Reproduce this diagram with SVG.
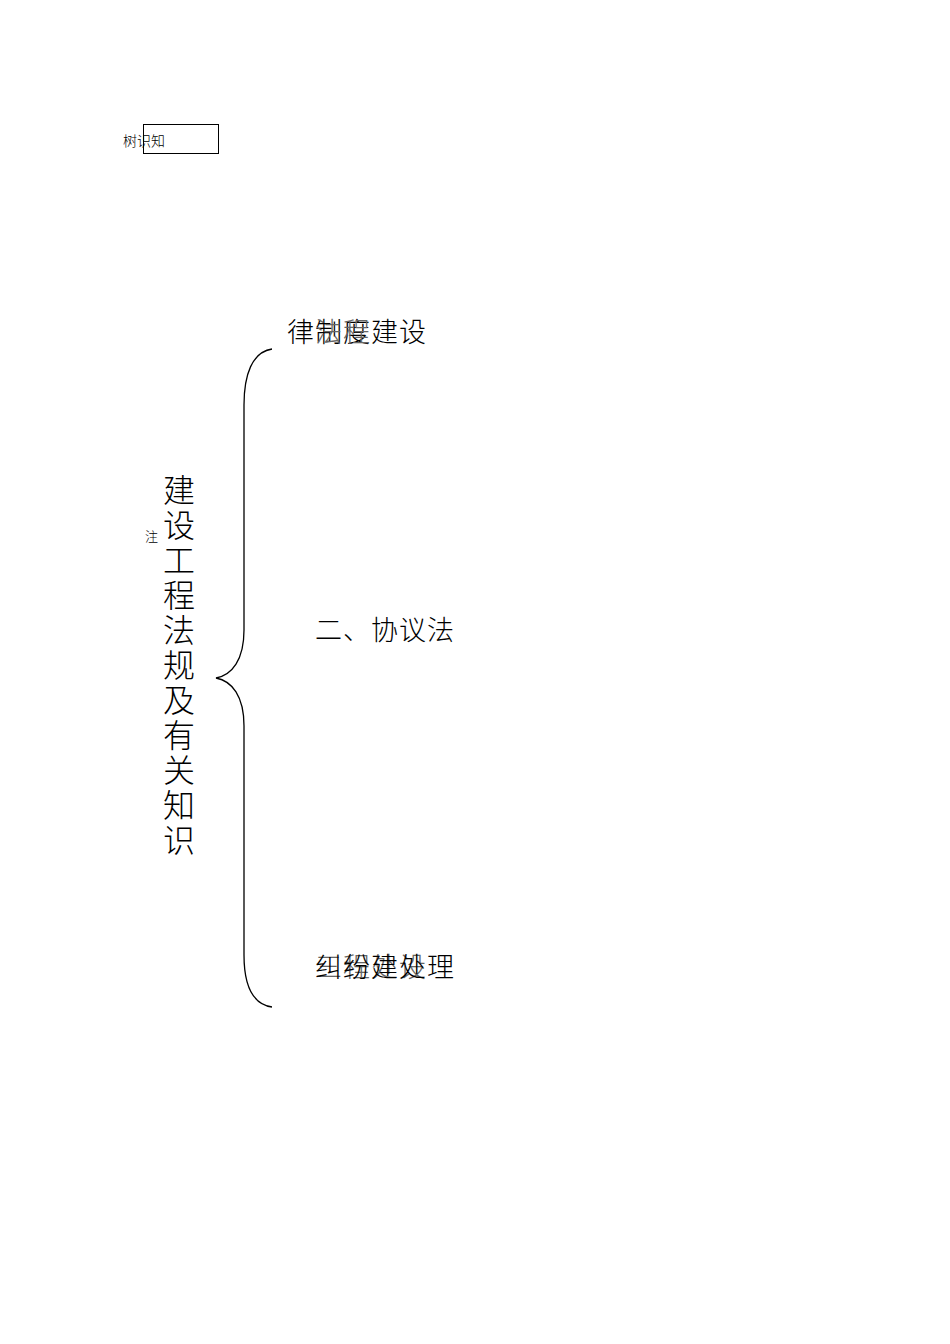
<svg xmlns="http://www.w3.org/2000/svg" width="950" height="1344" viewBox="0 0 950 1344">
<style>
.t{font-family:"Liberation Serif","Noto Sans CJK SC",serif;fill:#000;font-weight:300}
.big{font-size:27px}
.g{fill:#666}
</style>
<rect width="950" height="1344" fill="#fff"/>
<g id="box">
<rect x="143.5" y="124.5" width="75" height="29" fill="none" stroke="#000" stroke-width="1"/>
<text class="t" x="123" y="146" font-size="14">树识知</text>
</g>
<g id="root">
<text class="t" x="145" y="541" font-size="13">注</text>
<g class="t" font-size="32" text-anchor="middle">
<text x="179" y="502">建</text>
<text x="179" y="537">设</text>
<text x="179" y="572">工</text>
<text x="179" y="607">程</text>
<text x="179" y="642">法</text>
<text x="179" y="677">规</text>
<text x="179" y="712">及</text>
<text x="179" y="747">有</text>
<text x="179" y="782">关</text>
<text x="179" y="817">知</text>
<text x="179" y="852">识</text>
</g>
</g>
<g id="n1">
<text class="t big" x="287" y="342" letter-spacing="1">律制度建设</text>
<text class="t big g" x="315" y="342" letter-spacing="1">法程</text>
</g>
<g id="n2">
<text class="t big" x="315" y="640" letter-spacing="1">二、协议法</text>
</g>
<g id="n3">
<text class="t big g" x="315" y="977" letter-spacing="1">三程处设</text>
<text class="t big" x="315" y="977" letter-spacing="1">纠纷建处理</text>
</g>
<g id="connectors">
<path d="M272,349 C252,352 244,375 244,405 L244,630 C244,660 232,675 216,678 C232,681 244,696 244,726 L244,955 C244,985 252,1004 272,1007" fill="none" stroke="#000" stroke-width="1.3"/>
</g>
</svg>
